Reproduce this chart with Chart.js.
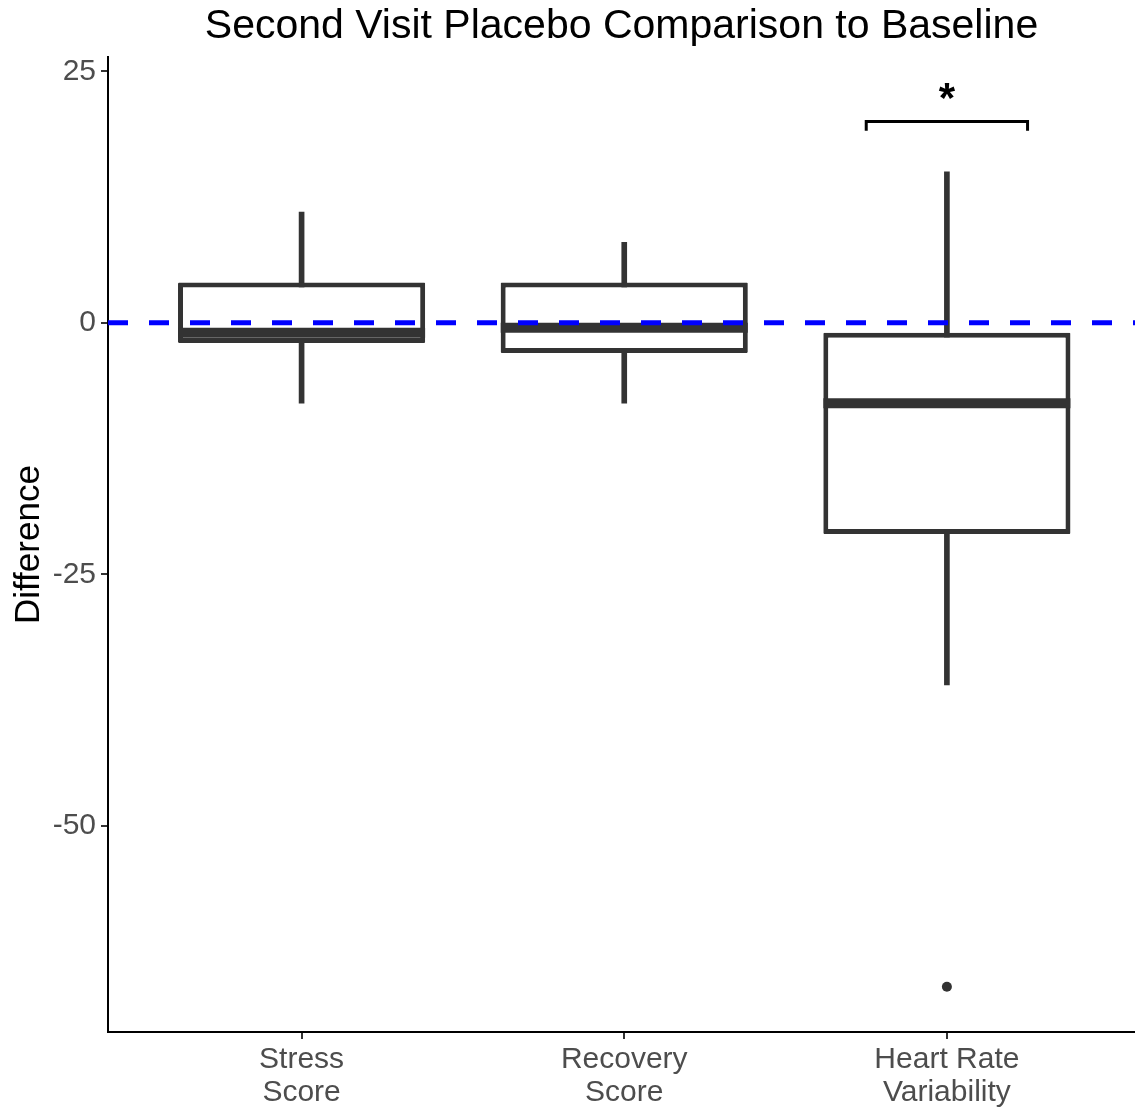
<!DOCTYPE html>
<html>
<head>
<meta charset="utf-8">
<script src="https://cdn.jsdelivr.net/npm/chart.js@4.4.1/dist/chart.umd.min.js"></script>
<style>
  html, body { margin: 0; padding: 0; background: #fff; }
  #wrap { width: 1135px; height: 1107px; }
</style>
</head>
<body>
<div id="wrap"><canvas id="boxChart"></canvas></div>
<script>
// groups on the x axis (two-line labels)
const categories = [['Stress', 'Score'], ['Recovery', 'Score'], ['Heart Rate', 'Variability']];

// box statistics per group
const whiskerLow  = [-8, -8, -36];
const q1          = [-2, -3, -21];
const median      = [-1, -0.5, -8];
const q3          = [4, 4, -1];
const whiskerHigh = [11, 8, 15];

// points outside the whiskers: [group index, value]
const outliers = [[2, -66]];

// y axis
const yTicks = [-50, -25, 0, 25];
const yMin = -70.5;
const yMax = 26.4;

// x axis range (discrete positions 0..2 with padding)
const xMin = -0.6;
const xMax = 2.583;

// reference line
const refValue = 0;

// significance bracket over Heart Rate Variability
const bracketX = [1.75, 2.25];
const bracketY = 20;
const bracketTip = 19.1;
const bracketLabel = '*';

const FONT = "'Liberation Sans', Arial, Helvetica, sans-serif";
const INK = '#333333';

// puts the asterisk above the bracket
const starPlugin = {
    id: 'starLabel',
    afterDatasetsDraw(chart) {
        const ctx = chart.ctx;
        const xs = chart.scales.x, ys = chart.scales.y;
        const cx = xs.getPixelForValue((bracketX[0] + bracketX[1]) / 2);
        const cy = ys.getPixelForValue(bracketY);
        ctx.save();
        ctx.font = 'bold 42px ' + FONT;
        ctx.fillStyle = '#000';
        ctx.textAlign = 'center';
        ctx.textBaseline = 'alphabetic';
        ctx.fillText(bracketLabel, cx, cy - 10);
        ctx.restore();
    }
};

const ctx = document.getElementById('boxChart').getContext('2d');

new Chart(ctx, {
    type: 'bar',
    data: {
        datasets: [{
            // whiskers
            type: 'bar',
            data: categories.map((c, i) => ({ x: i, y: [whiskerLow[i], whiskerHigh[i]] })),
            backgroundColor: INK,
            borderWidth: 0,
            barThickness: 5,
            grouped: false,
            order: 5
        }, {
            // boxes
            type: 'bar',
            data: categories.map((c, i) => ({ x: i, y: [q1[i], q3[i]] })),
            backgroundColor: '#ffffff',
            borderColor: INK,
            borderWidth: 5,
            borderSkipped: false,
            borderRadius: 1,
            categoryPercentage: 1,
            barPercentage: 0.766,
            grouped: false,
            order: 4
        }, {
            // medians
            type: 'line',
            data: categories.map((c, i) => ({ x: i, y: median[i] })),
            showLine: false,
            pointStyle: 'line',
            pointRadius: 123.5,
            pointBorderWidth: 10,
            pointBorderColor: INK,
            order: 3
        }, {
            // dashed zero line
            type: 'line',
            data: [{ x: xMin, y: refValue }, { x: xMax, y: refValue }],
            borderColor: '#0000ff',
            borderWidth: 5,
            borderDash: [20, 21],
            pointRadius: 0,
            order: 2
        }, {
            // outliers
            type: 'line',
            data: outliers.map(o => ({ x: o[0], y: o[1] })),
            showLine: false,
            pointRadius: 5,
            pointBackgroundColor: INK,
            pointBorderWidth: 0,
            order: 1
        }, {
            // bracket
            type: 'line',
            data: [
                { x: bracketX[0], y: bracketTip },
                { x: bracketX[0], y: bracketY },
                { x: bracketX[1], y: bracketY },
                { x: bracketX[1], y: bracketTip }
            ],
            borderColor: '#000',
            borderWidth: 3,
            pointRadius: 0,
            order: 1
        }]
    },
    options: {
        responsive: true,
        maintainAspectRatio: false,
        animation: false,
        events: [],
        layout: { padding: 0, autoPadding: false },
        plugins: {
            legend: { display: false },
            tooltip: { enabled: false },
            title: {
                display: true,
                fullSize: false,
                text: 'Second Visit Placebo Comparison to Baseline',
                color: '#000',
                font: { family: FONT, size: 41, weight: 'normal' },
                padding: { top: 2, bottom: 6 }
            }
        },
        scales: {
            x: {
                type: 'linear',
                min: xMin,
                max: xMax,
                offset: false,
                afterBuildTicks: (scale) => {
                    scale.ticks = categories.map((c, i) => ({ value: i }));
                },
                afterFit: (scale) => { scale.height = 75; },
                ticks: {
                    autoSkip: false,
                    maxRotation: 0,
                    color: '#4d4d4d',
                    font: { family: FONT, size: 30, lineHeight: 1.1 },
                    padding: 4,
                    callback: (value) => categories[value]
                },
                grid: {
                    offset: false,
                    drawOnChartArea: false,
                    drawTicks: true,
                    tickLength: 7,
                    color: INK,
                    lineWidth: 2
                },
                border: { display: true, color: '#000', width: 2 }
            },
            y: {
                min: yMin,
                max: yMax,
                afterBuildTicks: (scale) => {
                    scale.ticks = yTicks.map(v => ({ value: v }));
                },
                afterFit: (scale) => { scale.width = 108; },
                ticks: {
                    color: '#4d4d4d',
                    font: { family: FONT, size: 30 },
                    padding: 5
                },
                grid: {
                    drawOnChartArea: false,
                    drawTicks: true,
                    tickLength: 7,
                    color: INK,
                    lineWidth: 2
                },
                border: { display: true, color: '#000', width: 2 },
                title: {
                    display: true,
                    text: 'Difference',
                    color: '#000',
                    font: { family: FONT, size: 35 },
                    padding: { top: 8, bottom: 0 }
                }
            }
        }
    },
    plugins: [starPlugin]
});
</script>
</body>
</html>
